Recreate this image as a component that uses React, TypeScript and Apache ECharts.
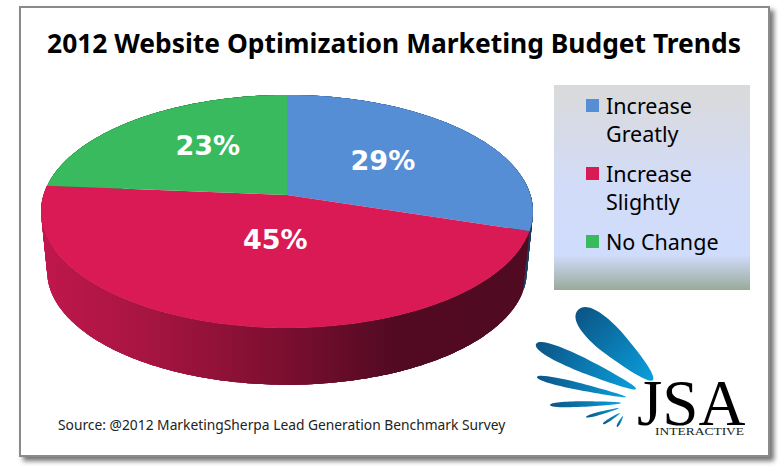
import React, { useEffect, useRef } from "react";
import * as echarts from "echarts";

const categories = ["Increase\nGreatly", "Increase\nSlightly", "No Change"];
const values = [29, 45, 23];
const percentLabels = ["29%", "45%", "23%"];
const colors = ["#558ed5", "#da1a54", "#3aba5e"];

const titleText = "2012 Website Optimization Marketing Budget Trends";
const sourceText = "Source: @2012 MarketingSherpa Lead Generation Benchmark Survey";

const FONT = '"Noto Sans", sans-serif';
const total = values.reduce((a, b) => a + b, 0);

// Perspective disc: the centre of the circle is not the centre of the ellipse
const CX = 287, CY = 195, A = 243.5, B = 114.2, K = 0.1416;
const project = (deg: number, r = 1, scale = 1, dy = 0): number[] => {
  const t = (deg * Math.PI) / 180;
  const u = r * Math.sin(t), v = -r * Math.cos(t), w = 1 - K * v;
  return [CX + (scale * A * u) / w, CY + dy + (scale * B * v) / w];
};
const arc = (a0: number, a1: number, scale = 1, dy = 0) => {
  const pts: number[][] = [];
  const n = Math.max(2, Math.ceil(Math.abs(a1 - a0)));
  for (let i = 0; i <= n; i++) pts.push(project(a0 + ((a1 - a0) * i) / n, 1, scale, dy));
  return pts;
};
const LOWER_SCALE = 0.975, LOWER_DY = 60;

const cumulative = values.map((_, i) => values.slice(0, i).reduce((a, b) => a + b, 0));
const toDeg = (v: number) => (v / total) * 360;

const wallFill = [
  new echarts.graphic.LinearGradient(500, 0, 533, 0, [
    { offset: 0, color: "#2f5f96" },
    { offset: 1, color: "#1b3553" },
  ], true),
  new echarts.graphic.LinearGradient(40, 0, 533, 0, [
    { offset: 0, color: "#c0174d" },
    { offset: 0.2, color: "#a91543" },
    { offset: 0.5, color: "#7b0e30" },
    { offset: 0.72, color: "#520a22" },
    { offset: 1, color: "#500a22" },
  ], true),
  "#1f7a3a",
];
const labelRadius = [0.516, 0.37, 0.58];
const labelNudge = [-1, -4, 6];

const wallOrder = [2, 0, 1];

const wallSeries = {
  type: "custom",
  name: "wall",
  coordinateSystem: "none",
  silent: true,
  z: 1,
  data: wallOrder.map((i) => [i, cumulative[i], values[i]]),
  renderItem: (_: any, api: any) => {
    const a0 = toDeg(api.value(1));
    const a1 = a0 + toDeg(api.value(2));
    const fill = wallFill[api.value(0)];
    const top = arc(a0, a1);
    const low = arc(a0, a1, LOWER_SCALE, LOWER_DY);
    // Overlapping strips, so that no seam shows between neighbours
    return {
      type: "group",
      children: top.slice(0, -1).map((p, k) => {
        const e = Math.min(k + 4, top.length - 1);
        return {
          type: "polygon",
          shape: { points: [p, ...top.slice(k + 1, e + 1), ...low.slice(k, e + 1).reverse()] },
          style: { fill },
        };
      }),
    };
  },
};

const topSeries = categories.map((name, i) => ({
  type: "custom",
  name,
  coordinateSystem: "none",
  silent: true,
  z: 2,
  itemStyle: { color: colors[i] },
  data: [[cumulative[i], values[i]]],
  renderItem: (_: any, api: any) => {
    const a0 = toDeg(api.value(0));
    const a1 = a0 + toDeg(api.value(1));
    const [lx, ly] = project((a0 + a1) / 2 + labelNudge[i], labelRadius[i]);
    return {
      type: "group",
      children: [
        {
          type: "polygon",
          shape: { points: [[CX, CY], ...arc(a0, a1)] },
          style: { fill: colors[i] },
        },
        {
          type: "text",
          x: lx,
          y: ly,
          z2: 10,
          style: {
            text: percentLabels[i],
            fill: "#ffffff",
            fontFamily: '"DejaVu Sans", sans-serif',
            fontWeight: "bold",
            fontSize: 27,
            align: "center",
            verticalAlign: "middle",
          },
        },
      ],
    };
  },
}));

const legendTops = [63.5, 131.5, 227.5];
const legends = categories.map((name, i) => ({
  left: 586,
  top: legendTops[i],
  orient: "vertical",
  padding: 0,
  selectedMode: false,
  icon: "path://M0 0h13v13h-13z M15 0h0",
  itemWidth: 15,
  itemHeight: 13,
  itemGap: 0,
  formatter: (n: string) => (n.includes("\n") ? " \n" + n : n),
  data: [
    {
      name,
      textStyle: {
        color: "#000000",
        fontFamily: FONT,
        fontSize: 21.5,
        lineHeight: 28,
      },
    },
  ],
}));

const leaves = [
  [578, 310, 653, 380, 30],
  [536, 344, 636, 389, 16],
  [537, 377, 626, 397, 8],
  [550, 405, 621, 403, 6],
  [586, 417, 619, 408, 3.4],
  [603, 424, 620, 413, 3],
  [617, 427, 623, 416, 2.6],
];

echarts.graphic.registerShape(
  "leaf",
  echarts.graphic.extendPath(
    "M0 0 C 0 -0.42 0.22 -0.52 0.45 -0.46 C 0.7 -0.36 1 -0.2 1 0 C 1 0.2 0.7 0.36 0.45 0.46 C 0.22 0.52 0 0.42 0 0 Z",
    {}
  )
);

const logo = leaves.map(([x0, y0, x1, y1, w]) => {
  const len = Math.hypot(x1 - x0, y1 - y0);
  return {
    type: "leaf",
    x: x0,
    y: y0,
    scaleX: len,
    scaleY: w,
    rotation: -Math.atan2(y1 - y0, x1 - x0),
    style: {
      fill: new echarts.graphic.LinearGradient(0, 0, 1, 0, [
        { offset: 0, color: "#0c5485" },
        { offset: 1, color: "#0a9fdc" },
      ]),
    },
  };
});

export default function App() {
  const ref = useRef<HTMLDivElement>(null);
  useEffect(() => {
    const chart = echarts.init(ref.current!, undefined, { renderer: "svg" });
    chart.setOption({
      animation: false,
      backgroundColor: "#ffffff",
      legend: legends,
      graphic: [
        {
          type: "rect",
          z: -10,
          shape: { x: 20, y: 7, width: 749, height: 449 },
          style: {
            fill: "#ffffff",
            stroke: "#8a8a8a",
            lineWidth: 2,
            shadowBlur: 5,
            shadowColor: "rgba(0,0,0,0.55)",
            shadowOffsetX: 4,
            shadowOffsetY: 4,
          },
        },
        {
          type: "rect",
          z: -5,
          shape: { x: 554, y: 85, width: 196, height: 205 },
          style: {
            fill: new echarts.graphic.LinearGradient(0, 0, 0, 1, [
              { offset: 0, color: "#dadada" },
              { offset: 0.49, color: "#d2dcf8" },
              { offset: 0.83, color: "#d0dcfc" },
              { offset: 1, color: "#99aa99" },
            ]),
          },
        },
        {
          type: "text",
          x: 394,
          y: 43,
          style: {
            text: titleText,
            fill: "#000000",
            fontFamily: FONT,
            fontWeight: "bold",
            fontSize: 26.4,
            align: "center",
            verticalAlign: "middle",
          },
        },
        {
          type: "text",
          x: 58,
          y: 424,
          style: {
            text: sourceText,
            fill: "#222222",
            fontFamily: FONT,
            fontSize: 13.8,
            align: "left",
            verticalAlign: "middle",
          },
        },
        ...logo,
        {
          type: "text",
          x: 637,
          y: 403,
          style: {
            text: "JSA",
            fontFamily: '"Liberation Serif", serif',
            fontSize: 65,
            align: "left",
            verticalAlign: "middle",
            fill: new echarts.graphic.LinearGradient(0, 0, 0, 1, [
              { offset: 0, color: "#1c1c1c" },
              { offset: 0.6, color: "#4a4a4a" },
              { offset: 1, color: "#222222" },
            ]),
          },
        },
        {
          type: "text",
          x: 655,
          y: 432,
          scaleX: 1.35,
          style: {
            text: "INTERACTIVE",
            fill: "#222222",
            fontFamily: '"Liberation Serif", serif',
            fontSize: 10,
            align: "left",
            verticalAlign: "middle",
          },
        },
      ],
      series: [wallSeries, ...topSeries],
    });
    return () => chart.dispose();
  }, []);
  return <div ref={ref} style={{ position: "fixed", left: 0, top: 0, width: 784, height: 471 }} />;
}
